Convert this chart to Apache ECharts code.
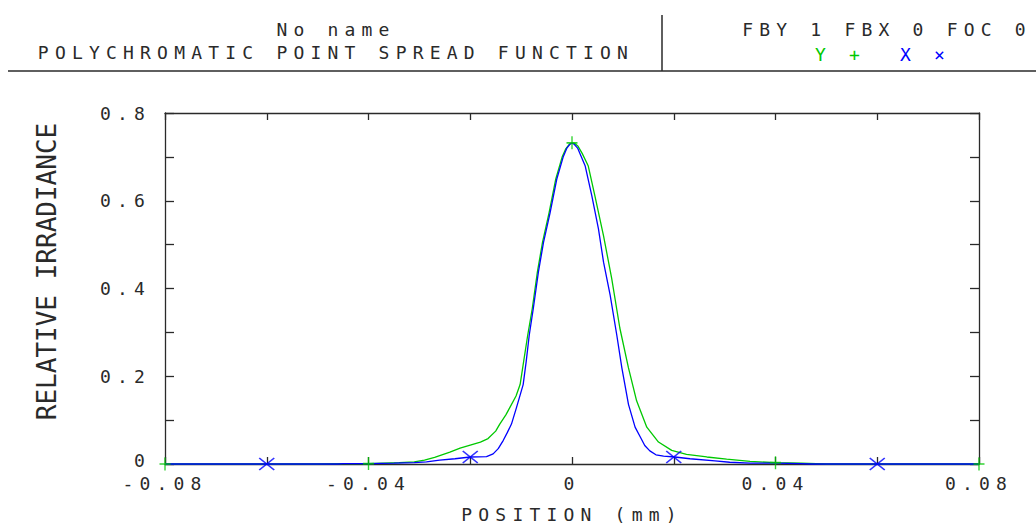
<!DOCTYPE html>
<html>
<head>
<meta charset="utf-8">
<script src="https://cdn.jsdelivr.net/npm/echarts@6/dist/echarts.min.js"></script>
<style>
  html, body { margin: 0; padding: 0; background: #ffffff; }
  #chart { width: 1036px; height: 528px; }
  #chart text { letter-spacing: 6.2px; }
  #chart text[style*="26px"] { letter-spacing: 0px; }
</style>
</head>
<body>
<div id="chart"></div>
<script>
// ---- data ----
const yCurveX = [-0.08, -0.05, -0.045, -0.04, -0.037, -0.034, -0.031, -0.029, -0.027, -0.024, -0.022, -0.02, -0.018, -0.0165, -0.015, -0.0142, -0.013, -0.0122, -0.011, -0.0102, -0.0095, -0.0087, -0.0078, -0.0068, -0.0058, -0.0045, -0.0032, -0.0019, -0.0012, -0.0005, 0, 0.0005, 0.0012, 0.002, 0.0032, 0.0045, 0.0062, 0.0078, 0.0094, 0.0111, 0.0127, 0.0147, 0.017, 0.0196, 0.0225, 0.0265, 0.0304, 0.035, 0.04, 0.045, 0.048, 0.05, 0.08];
const yCurveV = [0, 0, 0.001, 0.001, 0.002, 0.003, 0.005, 0.009, 0.015, 0.027, 0.036, 0.043, 0.05, 0.058, 0.075, 0.091, 0.112, 0.129, 0.155, 0.181, 0.234, 0.294, 0.355, 0.438, 0.505, 0.573, 0.649, 0.701, 0.719, 0.729, 0.732, 0.731, 0.724, 0.708, 0.679, 0.611, 0.52, 0.423, 0.31, 0.219, 0.144, 0.084, 0.05, 0.031, 0.022, 0.016, 0.011, 0.006, 0.003, 0.002, 0.001, 0, 0];

const xCurveX = [-0.08, -0.046, -0.045, -0.04, -0.035, -0.031, -0.0286, -0.026, -0.023, -0.02, -0.0168, -0.0155, -0.0145, -0.0135, -0.0127, -0.0119, -0.0109, -0.0096, -0.009, -0.0084, -0.0076, -0.0066, -0.0056, -0.0043, -0.003, -0.0017, -0.001, -0.0004, 0, 0.0004, 0.0011, 0.0026, 0.0039, 0.0052, 0.0062, 0.0075, 0.0088, 0.0098, 0.0111, 0.0124, 0.0134, 0.0143, 0.0153, 0.0165, 0.018, 0.0202, 0.0232, 0.0281, 0.031, 0.035, 0.04, 0.045, 0.047, 0.08];
const xCurveV = [0, 0, 0.001, 0.001, 0.002, 0.003, 0.005, 0.009, 0.012, 0.016, 0.017, 0.023, 0.035, 0.054, 0.072, 0.091, 0.129, 0.181, 0.234, 0.294, 0.355, 0.438, 0.505, 0.573, 0.649, 0.701, 0.72, 0.729, 0.731, 0.729, 0.72, 0.679, 0.611, 0.536, 0.46, 0.385, 0.294, 0.219, 0.136, 0.084, 0.062, 0.042, 0.03, 0.021, 0.018, 0.016, 0.012, 0.007, 0.004, 0.002, 0.002, 0.001, 0, 0];

const yMarkX = [-0.08, -0.04, 0, 0.04, 0.08];
const yMarkV = [0, 0.001, 0.732, 0.003, 0];
const xMarkX = [-0.06, -0.02, 0.02, 0.06];
const xMarkV = [0, 0.016, 0.016, 0];

const xTickLabels = ['-0.08', '-0.04', '0', '0.04', '0.08'];
const yTickLabels = ['0', '0.2', '0.4', '0.6', '0.8'];

const headerTitle = 'No name';
const headerSubtitle = 'POLYCHROMATIC POINT SPREAD FUNCTION';
const headerField = 'FBY 1 FBX 0 FOC 0';
const legendY = 'Y +';
const legendX = 'X \u00d7';
const xAxisName = 'POSITION (mm)';
const yAxisName = 'RELATIVE IRRADIANCE';

// ---- styles ----
const GREEN = '#00c800';
const BLUE = '#0000ff';
const INK = '#2a2a2a';
const FONT = 'DejaVu Sans Mono';

const zip = (xs, vs) => xs.map((x, i) => [x, vs[i]]);
const PLUS = 'path://M5,0L5,10M0,5L10,5';
const CROSS = 'path://M0,0L10,10M10,0L0,10';

const chart = echarts.init(document.getElementById('chart'), null, { renderer: 'svg' });

const baseX = {
  type: 'value', min: -0.08, max: 0.08, interval: 0.02,
  axisLine: { show: true, onZero: false, lineStyle: { color: INK, width: 1.3 } },
  axisTick: { show: true, inside: true, length: 7, lineStyle: { color: INK, width: 1.3 } },
  splitLine: { show: false }
};
const baseY = {
  type: 'value', min: 0, max: 0.8, interval: 0.1,
  axisLine: { show: true, onZero: false, lineStyle: { color: INK, width: 1.3 } },
  axisTick: { show: true, inside: true, length: 9, lineStyle: { color: INK, width: 1.3 } },
  splitLine: { show: false }
};
const txt = '18px "' + FONT + '"';

chart.setOption({
  animation: false,
  backgroundColor: '#ffffff',
  grid: { left: 165, right: 57, top: 113, bottom: 61 },
  graphic: [
    { type: 'line', shape: { x1: 8, y1: 71, x2: 1036, y2: 71 }, style: { stroke: INK, lineWidth: 1.5 } },
    { type: 'line', shape: { x1: 662, y1: 15, x2: 662, y2: 71 }, style: { stroke: INK, lineWidth: 1.5 } },
    { type: 'text', x: 336, y: 29, style: { text: headerTitle, fill: INK, font: txt, textAlign: 'center', textVerticalAlign: 'middle' } },
    { type: 'text', x: 336, y: 52, style: { text: headerSubtitle, fill: INK, font: txt, textAlign: 'center', textVerticalAlign: 'middle' } },
    { type: 'text', x: 887, y: 29, style: { text: headerField, fill: INK, font: txt, textAlign: 'center', textVerticalAlign: 'middle' } },
    { type: 'text', x: 815, y: 54, style: { text: legendY, fill: GREEN, font: txt, textAlign: 'left', textVerticalAlign: 'middle' } },
    { type: 'text', x: 900, y: 54, style: { text: legendX, fill: BLUE, font: txt, textAlign: 'left', textVerticalAlign: 'middle' } }
  ],
  xAxis: [
    Object.assign({}, baseX, {
      position: 'bottom',
      name: xAxisName, nameLocation: 'middle', nameGap: 42,
      nameTextStyle: { color: INK, fontFamily: FONT, fontSize: 18, lineHeight: 16 },
      axisLabel: {
        show: true, margin: 12, color: INK, fontFamily: FONT, fontSize: 18, lineHeight: 14,
        formatter: v => { const k = Math.round(v * 100); return k % 4 === 0 ? xTickLabels[(k + 8) / 4] : ''; }
      }
    }),
    Object.assign({}, baseX, { position: 'top', axisLabel: { show: false } })
  ],
  yAxis: [
    Object.assign({}, baseY, {
      position: 'left',
      name: yAxisName, nameLocation: 'middle', nameGap: 105,
      nameTextStyle: { color: INK, fontFamily: FONT, fontSize: 26, padding: [0, 0, 0, 34] },
      axisLabel: {
        show: true, margin: 14, color: INK, fontFamily: FONT, fontSize: 18, lineHeight: 13,
        formatter: v => {
          const k = Math.round(v * 10);
          if (k % 2 !== 0) return '';
          return k === 0 ? '{z|' + yTickLabels[0] + '}' : yTickLabels[k / 2];
        },
        rich: { z: { color: INK, fontFamily: FONT, fontSize: 18, lineHeight: 13, padding: [0, 0, 7, 0] } }
      }
    }),
    Object.assign({}, baseY, { position: 'right', axisLabel: { show: false } })
  ],
  series: [
    {
      name: 'Y', type: 'line', data: zip(yCurveX, yCurveV), showSymbol: false, clip: false,
      lineStyle: { color: GREEN, width: 1.3 }, itemStyle: { color: GREEN }, z: 3
    },
    {
      name: 'X', type: 'line', data: zip(xCurveX, xCurveV), showSymbol: false, clip: false,
      lineStyle: { color: BLUE, width: 1.3 }, itemStyle: { color: BLUE }, z: 4
    },
    {
      name: 'Y markers', type: 'scatter', data: zip(yMarkX, yMarkV), clip: false,
      symbol: PLUS, symbolSize: [11, 13],
      itemStyle: { color: 'transparent', borderColor: GREEN, borderWidth: 1.5 }, z: 5
    },
    {
      name: 'X markers', type: 'scatter', data: zip(xMarkX, xMarkV), clip: false,
      symbol: CROSS, symbolSize: [15, 12],
      itemStyle: { color: 'transparent', borderColor: BLUE, borderWidth: 1.5 }, z: 6
    }
  ]
});
</script>
</body>
</html>
